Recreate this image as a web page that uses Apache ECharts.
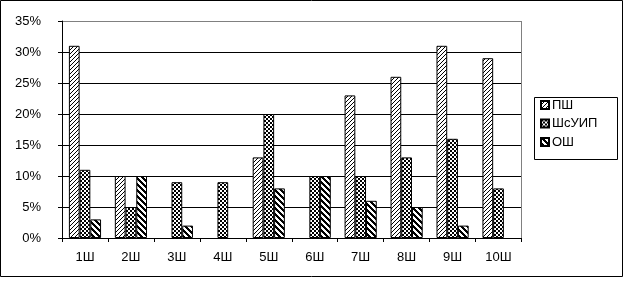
<!DOCTYPE html>
<html><head><meta charset="utf-8">
<script src="https://cdn.jsdelivr.net/npm/echarts@6/dist/echarts.min.js"></script>
<style>html,body{margin:0;padding:0;background:#fff}#c{width:630px;height:281px}</style>
</head><body><div id="c"></div>
<script>
const categories = ['1Ш','2Ш','3Ш','4Ш','5Ш','6Ш','7Ш','8Ш','9Ш','10Ш'];
const seriesNames = ['ПШ','ШсУИП','ОШ'];
const valuesPSh = [31,10,0,0,13,0,23,26,31,29];
const valuesShsUIP = [11,5,9,9,20,10,10,13,16,8];
const valuesOSh = [3,10,2,0,8,10,6,5,2,0];
const yTicks = [0,5,10,15,20,25,30,35];

function makePattern(kind){
  const c = document.createElement('canvas');
  const ctx = c.getContext('2d');
  if(kind==='fwd'){
    c.width=4;c.height=4;
    ctx.fillStyle='#fff';ctx.fillRect(0,0,4,4);
    ctx.fillStyle='#000';
    for(let i=0;i<4;i++){ctx.fillRect(3-i,i,1,1);}
  } else if(kind==='check'){
    c.width=4;c.height=4;
    ctx.fillStyle='#fff';ctx.fillRect(0,0,4,4);
    ctx.fillStyle='#000';
    ctx.fillRect(0,0,2,2);ctx.fillRect(2,2,2,2);
  } else {
    c.width=6;c.height=6;
    ctx.fillStyle='#fff';ctx.fillRect(0,0,6,6);
    ctx.fillStyle='#000';
    for(let i=0;i<6;i++){for(let w=0;w<3;w++){ctx.fillRect((i+w)%6,i,1,1);}}
  }
  return {image:c, repeat:'repeat'};
}
const pats = [makePattern('fwd'), makePattern('check'), makePattern('back')];
const data = [valuesPSh, valuesShsUIP, valuesOSh];

const chart = echarts.init(document.getElementById('c'));
const font = 'Liberation Sans, Arial, sans-serif';
chart.setOption({
  animation:false,
  backgroundColor:'#fff',
  graphic:[
    {type:'rect',shape:{x:0.5,y:0.5,width:622,height:276},style:{fill:'none',stroke:'#000',lineWidth:1},z:-10},
    {type:'line',shape:{x1:521.5,y1:21,x2:521.5,y2:238},style:{stroke:'#808080',lineWidth:1},z:1},
    {type:'rect',shape:{x:534.5,y:97.5,width:83,height:62},style:{fill:'#fff',stroke:'#000',lineWidth:1},z:-5}
  ],
  grid:{left:62,top:21,right:108.5,bottom:43,containLabel:false},
  legend:{
    orient:'vertical',left:540,top:98,
    data:seriesNames,
    itemWidth:8,itemHeight:8,itemGap:4.5,
    padding:0,
    icon:'rect',
    textStyle:{fontFamily:font,fontSize:13,lineHeight:14,color:'#000',padding:[0,0,0,-2]},
    selectedMode:false
  },
  xAxis:{
    type:'category',data:categories,
    axisLine:{lineStyle:{color:'#000',width:1}},
    axisTick:{show:true,length:4,lineStyle:{color:'#000'}},
    axisLabel:{fontFamily:font,fontSize:13,color:'#000',margin:13}
  },
  yAxis:{
    type:'value',min:0,max:35,interval:5,
    axisLine:{show:true,lineStyle:{color:'#000'}},
    axisTick:{show:true,length:4,lineStyle:{color:'#000'}},
    axisLabel:{fontFamily:font,fontSize:13,color:'#000',margin:21,formatter:v=>v+'%'},
    splitLine:{lineStyle:{color:['#000','#000','#000','#000','#000','#000','#000','#808080'],width:1}}
  },
  series:seriesNames.map((n,i)=>({
    name:n,type:'bar',
    data:data[i].map(v=>v===0?{value:v,itemStyle:{borderWidth:0,opacity:0}}:v),
    barGap:'0%',barCategoryGap:'30%',
    itemStyle:{color:pats[i],borderColor:'#000',borderWidth:1},
    emphasis:{disabled:true}
  }))
});
</script></body></html>
